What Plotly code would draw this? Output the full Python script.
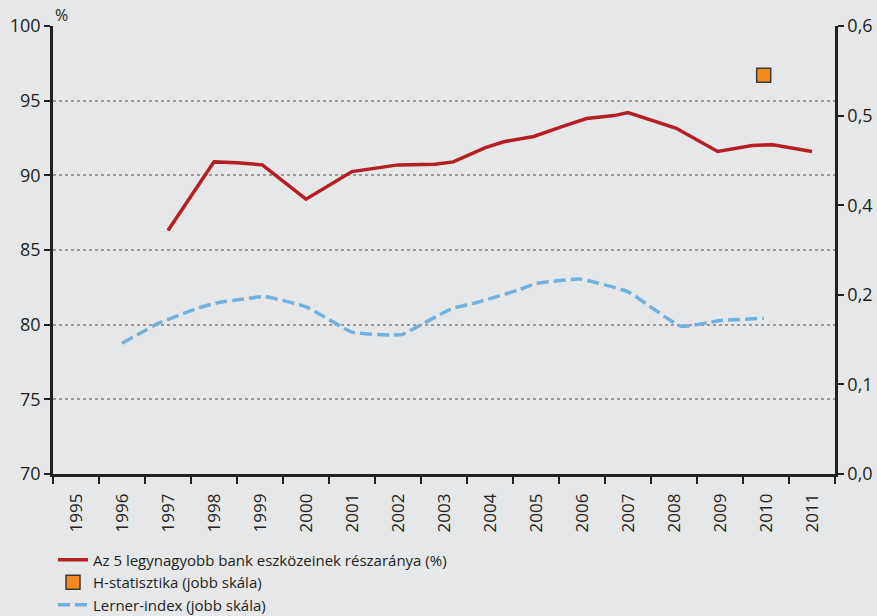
import plotly.graph_objects as go

years = list(range(1995, 2012))
year_labels = [str(y) for y in years]

# Az 5 legnagyobb bank eszközeinek részaránya (%) - left scale
share_x = [1997.0, 1997.7, 1998.0, 1998.5, 1999.05, 2000.0, 2001.0, 2002.0, 2002.8, 2003.2,
           2003.9, 2004.3, 2004.95, 2005.55, 2006.1, 2006.7, 2007.0, 2008.05, 2008.95,
           2009.7, 2010.15, 2011.0]
share_y = [86.3, 89.5, 90.9, 90.85, 90.7, 88.4, 90.25, 90.7, 90.75, 90.9,
           91.85, 92.25, 92.6, 93.25, 93.8, 94.0, 94.2, 93.15, 91.6,
           92.0, 92.05, 91.6]

# H-statisztika (right scale)
h_x = [2009.95]
h_y = [0.534]

# Lerner-index (right scale)
lerner_x = [1996.0, 1996.8, 1997.65, 1998.05, 1998.6, 1999.1, 2000.0, 2001.0, 2001.9, 2002.1,
            2003.15, 2003.7, 2004.6, 2005.0, 2005.95, 2007.0, 2008.15, 2009.0, 2009.95]
lerner_y = [0.175, 0.202, 0.222, 0.229, 0.234, 0.2375, 0.224, 0.190, 0.186, 0.187,
            0.221, 0.2295, 0.246, 0.255, 0.261, 0.244, 0.198, 0.2055, 0.2085]

left_ticks = [70, 75, 80, 85, 90, 95, 100]
right_ticks = [0, 0.12, 0.24, 0.36, 0.48, 0.6]

BG = "#e6e7e9"
AX = "#231f20"
FONT = "Open Sans, Noto Sans, sans-serif"

fig = go.Figure()
fig.add_trace(go.Scatter(
    x=share_x, y=share_y, mode="lines", name="Az 5 legynagyobb bank eszközeinek részaránya (%)",
    line=dict(color="#b51f24", width=3.5), yaxis="y"))
fig.add_trace(go.Scatter(
    x=h_x, y=h_y, mode="markers", name="H-statisztika (jobb skála)",
    marker=dict(symbol="square", size=14, color="#f58a1f", line=dict(color="#3a3a3a", width=1.5)),
    yaxis="y2"))
fig.add_trace(go.Scatter(
    x=lerner_x, y=lerner_y, mode="lines", name="Lerner-index (jobb skála)",
    line=dict(color="#72b1de", width=3.5, dash="12px,5px", shape="spline", smoothing=0.4),
    yaxis="y2"))

fig.update_layout(
    width=877, height=616,
    paper_bgcolor=BG, plot_bgcolor=BG,
    separators=",.",
    margin=dict(l=53, r=42, t=26, b=142, autoexpand=False),
    font=dict(family=FONT, color=AX, size=17),
    showlegend=True,
    legend=dict(
        x=0.0, y=-0.155, xanchor="left", yanchor="top",
        font=dict(family=FONT, size=15, color=AX),
        bgcolor="rgba(0,0,0,0)", tracegroupgap=0, itemwidth=30,
    ),
    xaxis=dict(
        range=[1994.5, 2011.5], tickvals=years, ticktext=year_labels,
        tickangle=-90, ticks="", showgrid=False, zeroline=False, automargin=False,
        showline=True, linecolor=AX, linewidth=2.5,
        tickfont=dict(size=17, family=FONT, color=AX),
        ticklabelstandoff=10,
        minor=dict(tickvals=[1994.5 + i for i in range(18)], ticks="outside",
                   ticklen=7, tickwidth=2, tickcolor=AX, showgrid=False),
    ),
    yaxis=dict(
        range=[70, 100], tickvals=left_ticks, ticks="outside", ticklen=6,
        tickwidth=2, tickcolor=AX, showline=True, linecolor=AX, linewidth=2.5,
        showgrid=True, gridcolor="#9a9a9a", griddash="dot", gridwidth=1.5,
        zeroline=False, automargin=False, tickfont=dict(size=18, family=FONT, color=AX),
    ),
    yaxis2=dict(
        range=[0, 0.6], tickvals=right_ticks, tickformat=".1f", overlaying="y",
        side="right", ticks="outside", ticklen=6, tickwidth=2, tickcolor=AX,
        showline=True, linecolor=AX, linewidth=2.5, showgrid=False, zeroline=False,
        automargin=False, tickfont=dict(size=18, family=FONT, color=AX),
    ),
    annotations=[dict(text="%", xref="paper", yref="paper", x=0.0, y=1.0,
                      xanchor="left", yanchor="bottom", showarrow=False,
                      font=dict(size=16, family=FONT, color=AX), xshift=0, yshift=-2)],
)

fig.write_html("out.html", config={"displayModeBar": False},
               post_script="document.body.style.margin='0';document.body.style.padding='0';")
